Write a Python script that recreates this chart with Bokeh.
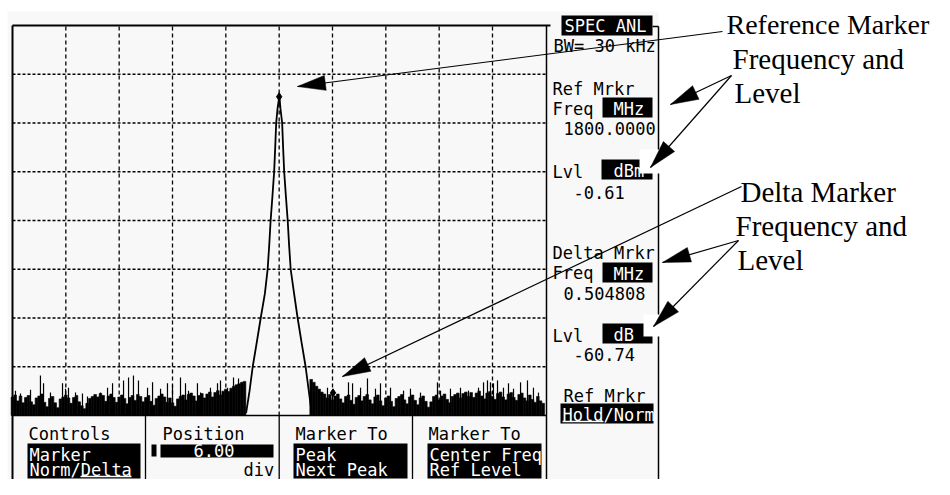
import numpy as np
from bokeh.plotting import figure
from bokeh.models import Range1d
from bokeh.core.properties import value
from bokeh.embed import file_html
from bokeh.resources import INLINE

# ---------------- data ----------------
center_mhz = 1800.0
span_mhz = 5.0
ref_level_dbm = 14.0
db_per_div = 10.0
n_hdiv = 10
n_vdiv = 8

freq_ticks = [1798.0, 1798.5, 1799.0, 1799.5, 1800.0, 1800.5, 1801.0, 1801.5, 1802.0]
level_ticks = [4, -6, -16, -26, -36, -46, -56]

bin_mhz = 0.025
noise_left_start = 1797.5
noise_left_db = [
    -62.2, -61.8, -63.0, -62.0, -63.4, -62.3, -61.9, -63.2, -63.8, -62.4,
    -62.0, -61.6, -63.3, -64.2, -62.5, -62.1, -63.4, -64.4, -62.6, -62.2,
    -61.8, -62.4, -63.5, -62.3, -61.9, -63.2, -64.0, -64.6, -63.5, -62.5,
    -62.1, -61.7, -62.2, -61.5, -61.9, -63.1, -62.0, -61.6, -62.3, -63.3,
    -62.2, -61.8, -62.5, -63.6, -62.3, -61.9, -62.9, -61.7, -62.1, -63.2,
    -62.3, -61.9, -63.1, -63.9, -62.5, -62.0, -61.6, -62.2, -63.3, -62.4,
    -63.4, -64.1, -62.6, -62.1, -61.8, -62.8, -61.7, -61.4, -62.0, -63.0,
    -61.9, -61.5, -62.4, -61.6, -61.2, -62.2, -61.3, -60.9, -61.8, -61.0,
    -60.6, -61.1, -60.4, -60.0, -59.7, -59.5, -59.2, -59.0,
]
noise_right_start = 1800.3
noise_right_db = [
    -58.6, -59.2, -60.0, -60.6, -61.2, -61.6, -62.4, -61.7, -62.8, -62.0,
    -61.6, -62.6, -63.4, -62.1, -61.8, -62.9, -63.7, -62.3, -61.9, -63.0,
    -62.1, -61.7, -62.8, -63.6, -62.2, -61.8, -63.0, -64.0, -62.4, -62.0,
    -63.1, -64.2, -62.5, -62.1, -61.7, -62.8, -63.6, -62.2, -61.8, -62.9,
    -63.8, -62.4, -62.0, -63.1, -64.3, -63.2, -62.1, -61.8, -62.8, -62.0,
    -61.6, -62.7, -63.4, -62.1, -61.7, -61.4, -62.4, -61.5, -61.2, -62.1,
    -61.3, -62.3, -61.4, -61.0, -62.0, -62.6, -61.4, -61.1, -62.1, -62.7,
    -61.5, -61.2, -62.2, -62.8, -61.6, -61.3, -62.3, -62.9, -61.7, -61.4,
    -62.4, -63.0, -61.8, -62.7, -63.3, -62.1, -63.0, -63.5,
]
spike_left_mhz = [1797.528, 1797.575, 1797.669, 1797.762, 1797.791, 1797.856, 1797.969,
                  1797.997, 1798.025, 1798.091, 1798.156, 1798.203, 1798.325, 1798.391,
                  1798.438, 1798.541, 1798.588, 1798.634, 1798.681, 1798.766, 1798.813,
                  1798.888, 1798.953, 1799.000, 1799.075, 1799.122, 1799.150, 1799.234,
                  1799.263, 1799.356, 1799.422, 1799.450, 1799.516, 1799.572, 1799.619]
spike_left_db = [-60.9, -61.5, -60.7, -57.8, -59.4, -61.3, -59.4,
                 -60.5, -60.3, -61.3, -61.5, -62.1, -61.3, -60.3,
                 -59.4, -58.8, -58.2, -57.8, -58.8, -60.3, -59.2,
                 -60.5, -59.4, -59.8, -58.2, -59.4, -60.9, -59.4,
                 -61.3, -60.3, -59.4, -58.8, -60.3, -58.2, -58.4]
spike_right_mhz = [1800.453, 1800.500, 1800.650, 1800.688, 1800.763, 1800.828, 1800.903,
                   1800.950, 1801.044, 1801.166, 1801.231, 1801.325, 1801.484, 1801.513,
                   1801.606, 1801.700, 1801.775, 1801.869, 1801.916, 1801.953, 1801.981,
                   1802.009, 1802.047, 1802.103, 1802.150, 1802.197, 1802.263, 1802.328,
                   1802.384, 1802.431]
spike_right_db = [-60.3, -60.9, -59.2, -59.4, -60.3, -58.4, -60.5,
                  -59.4, -60.3, -60.9, -60.5, -61.3, -59.2, -60.9,
                  -60.5, -60.3, -60.9, -60.3, -59.2, -58.8, -59.2,
                  -59.4, -58.8, -60.3, -59.4, -60.5, -59.2, -58.8,
                  -60.3, -61.3]
peak_mhz = [1799.690, 1799.722, 1799.752, 1799.790, 1799.827, 1799.866, 1799.892,
            1799.907, 1799.920, 1799.937, 1799.953, 1799.963, 1799.972, 1799.985,
            1799.995, 1800.000, 1800.005, 1800.012, 1800.028, 1800.037, 1800.047,
            1800.063, 1800.080, 1800.093, 1800.108, 1800.140, 1800.173, 1800.210,
            1800.248, 1800.278, 1800.305]
peak_db = [-65.5, -61.0, -56.0, -51.0, -46.0, -41.0, -36.0,
           -31.0, -26.0, -21.0, -16.0, -11.0, -6.0, -3.0,
           -1.5, -0.61, -1.2, -3.0, -6.0, -11.0, -16.0,
           -21.0, -26.0, -31.0, -36.0, -41.0, -46.0, -51.0,
           -56.0, -61.0, -65.5]
ref_marker_mhz = 1800.0
ref_marker_dbm = -0.61
delta_marker_mhz = 0.504808
delta_marker_db = -60.74

# ---------------- layout (reference pixel frame) ----------------
W, H = 934, 479
X0, Y0 = 0, 0
PX0, PX1 = 12.0, 545.33
PY0, PY1 = 25.0, 415.0

f_min = center_mhz - span_mhz / 2
f_max = center_mhz + span_mhz / 2
db_top = ref_level_dbm
db_bot = ref_level_dbm - n_vdiv * db_per_div
ppm = (PX1 - PX0) / span_mhz
ppd = (PY1 - PY0) / (db_top - db_bot)

p = figure(width=W, height=H, x_range=Range1d(X0, X0 + W), y_range=Range1d(Y0 + H, Y0),
           output_backend="svg", toolbar_location=None, min_border=0,
           x_axis_location=None, y_axis_location=None)
p.grid.visible = False
p.outline_line_color = None
p.background_fill_color = "white"
p.border_fill_color = "white"
p.extra_x_ranges = {"freq": Range1d(f_min - (PX0 - X0) / ppm, f_min + (X0 + W - PX0) / ppm)}
p.extra_y_ranges = {"db": Range1d(db_bot - (Y0 + H - PY1) / ppd, db_top + (PY0 - Y0) / ppd)}
FR = dict(x_range_name="freq", y_range_name="db")

# screen background
p.quad(left=[7], right=[658], top=[11], bottom=[495], fill_color="#f8f8f8", line_color=None)

# graticule
p.segment(x0=freq_ticks, x1=freq_ticks, y0=[db_bot] * len(freq_ticks), y1=[db_top] * len(freq_ticks),
          line_color="black", line_width=1.3, line_dash="4 3", **FR)
p.segment(x0=[f_min] * len(level_ticks), x1=[f_max] * len(level_ticks), y0=level_ticks, y1=level_ticks,
          line_color="black", line_width=1.5, line_dash="3 2", **FR)

# noise floor
nl_x = noise_left_start + bin_mhz * np.arange(len(noise_left_db))
nr_x = noise_right_start + bin_mhz * np.arange(len(noise_right_db))
for xs, ys in ((nl_x, noise_left_db), (nr_x, noise_right_db)):
    p.vbar(x=xs, width=bin_mhz, top=ys, bottom=db_bot, fill_color="black",
           line_color="black", line_width=0.6, **FR)
for xs, ys in ((spike_left_mhz, spike_left_db), (spike_right_mhz, spike_right_db)):
    p.segment(x0=xs, x1=xs, y0=[db_bot] * len(xs), y1=ys, line_color="black", line_width=1.2, **FR)

# signal peak
p.line(peak_mhz, peak_db, line_color="black", line_width=1.8, **FR)
p.scatter([ref_marker_mhz, ref_marker_mhz + delta_marker_mhz],
          [ref_marker_dbm, ref_marker_dbm + delta_marker_db],
          marker="diamond", size=8, color="black", **FR)

# frame lines
frame = [
    (12, 25, 550, 25, 2.0), (12, 25, 12, 495, 2.0), (546, 25, 546, 495, 1.5),
    (12, 415, 546, 415, 1.5), (145, 415, 145, 495, 1.3), (278.7, 415, 278.7, 495, 1.3),
    (412, 415, 412, 495, 1.3), (652, 26, 658, 26, 1.5), (658, 26, 658, 495, 1.5),
]
for x0, y0, x1, y1, lw in frame:
    p.segment(x0=[x0], y0=[y0], x1=[x1], y1=[y1], line_color="black", line_width=lw)

# black boxes
boxes = [
    (561, 652, 15, 35), (602, 652, 97, 117), (601, 652, 159, 179), (602, 652, 262, 282),
    (602, 652, 323, 343), (560, 653, 403, 423), (27, 140, 443, 478), (151, 156, 444, 456),
    (160, 273, 444, 457), (293, 407, 443, 478), (427, 541, 443, 478),
]
p.quad(left=[b[0] for b in boxes], right=[b[1] for b in boxes],
       top=[b[2] for b in boxes], bottom=[b[3] for b in boxes],
       fill_color="black", line_color=None)

MONO = value("DejaVu Sans Mono")
MONO_SIZE = 17
MONO_DY = -5  # baseline correction of the rendered text
white_txt = [
    ("SPEC ANL", 564, 30), ("MHz", 613, 113), ("dBm", 613, 175), ("MHz", 613, 278),
    ("dB", 613, 339), ("Hold/Norm", 562, 419), ("Marker", 29, 459), ("Norm/Delta", 29, 474),
    ("%.2f" % 6.0, 193, 455), ("Peak", 295, 459), ("Next Peak", 295, 474),
    ("Center Freq", 429, 459), ("Ref Level", 429, 474),
]
black_txt = [
    ("BW= 30 kHz", 553, 50), ("Ref Mrkr", 552, 93), ("Freq", 552, 113),
    ("%.4f" % ref_marker_mhz, 563, 133), ("Lvl", 552, 176), ("%.2f" % ref_marker_dbm, 573, 197),
    ("Delta Mrkr", 552, 257), ("Freq", 552, 277), ("%.6f" % delta_marker_mhz, 563, 298),
    ("Lvl", 552, 340), ("%.2f" % delta_marker_db, 573, 359), ("Ref Mrkr", 563, 400),
    ("Controls", 28, 438), ("Position", 162, 438), ("div", 243, 474),
    ("Marker To", 295, 438), ("Marker To", 428, 438),
]
for items, col in ((white_txt, "white"), (black_txt, "black")):
    p.text(x=[t[1] for t in items], y=[t[2] + MONO_DY for t in items], text=[t[0] for t in items],
           text_font=MONO, text_font_size="%dpx" % MONO_SIZE, text_color=col,
           text_baseline="alphabetic", text_align="left")
# underlines
p.segment(x0=[80, 562], y0=[476, 421], x1=[131, 603], y1=[476, 421], line_color="white", line_width=1.3)

# white patches behind arrow heads
p.quad(left=[639, 643], right=[662, 662], top=[149, 314], bottom=[173, 336],
       fill_color="white", line_color=None)

# annotation arrows
arrows = [
    (722, 31, 297, 86), (731, 75, 670, 104), (731, 75, 650, 167),
    (741, 186, 342, 376), (738, 240, 662, 262), (738, 240, 653, 326),
]
L, HW = 28.0, 7.5
xs_h, ys_h = [], []
for tx, ty, hx, hy in arrows:
    d = np.array([tx - hx, ty - hy], dtype=float)
    d /= np.hypot(*d)
    n = np.array([-d[1], d[0]])
    b = np.array([hx, hy]) + d * L
    xs_h.append([hx, b[0] + n[0] * HW, b[0] - n[0] * HW])
    ys_h.append([hy, b[1] + n[1] * HW, b[1] - n[1] * HW])
p.segment(x0=[a[0] for a in arrows], y0=[a[1] for a in arrows],
          x1=[a[2] for a in arrows], y1=[a[3] for a in arrows], line_color="black", line_width=1.2)
p.patches(xs_h, ys_h, fill_color="black", line_color="black", line_width=0.5)

SERIF = value("Liberation Serif")
SERIF_DY = -9
p.text(x=[726], y=[33 + SERIF_DY], text=["Reference Marker"], text_font=SERIF, text_font_size="28px",
       text_color="black", text_baseline="alphabetic", text_align="left")
notes = [
    ("Frequency and", 732, 67), ("Level", 734, 101),
    ("Delta Marker", 740, 200), ("Frequency and", 735, 234), ("Level", 737, 268),
]
p.text(x=[t[1] for t in notes], y=[t[2] + SERIF_DY for t in notes], text=[t[0] for t in notes],
       text_font=SERIF, text_font_size="29px", text_color="black",
       text_baseline="alphabetic", text_align="left")

open("out.html", "w").write(file_html(p, INLINE))
